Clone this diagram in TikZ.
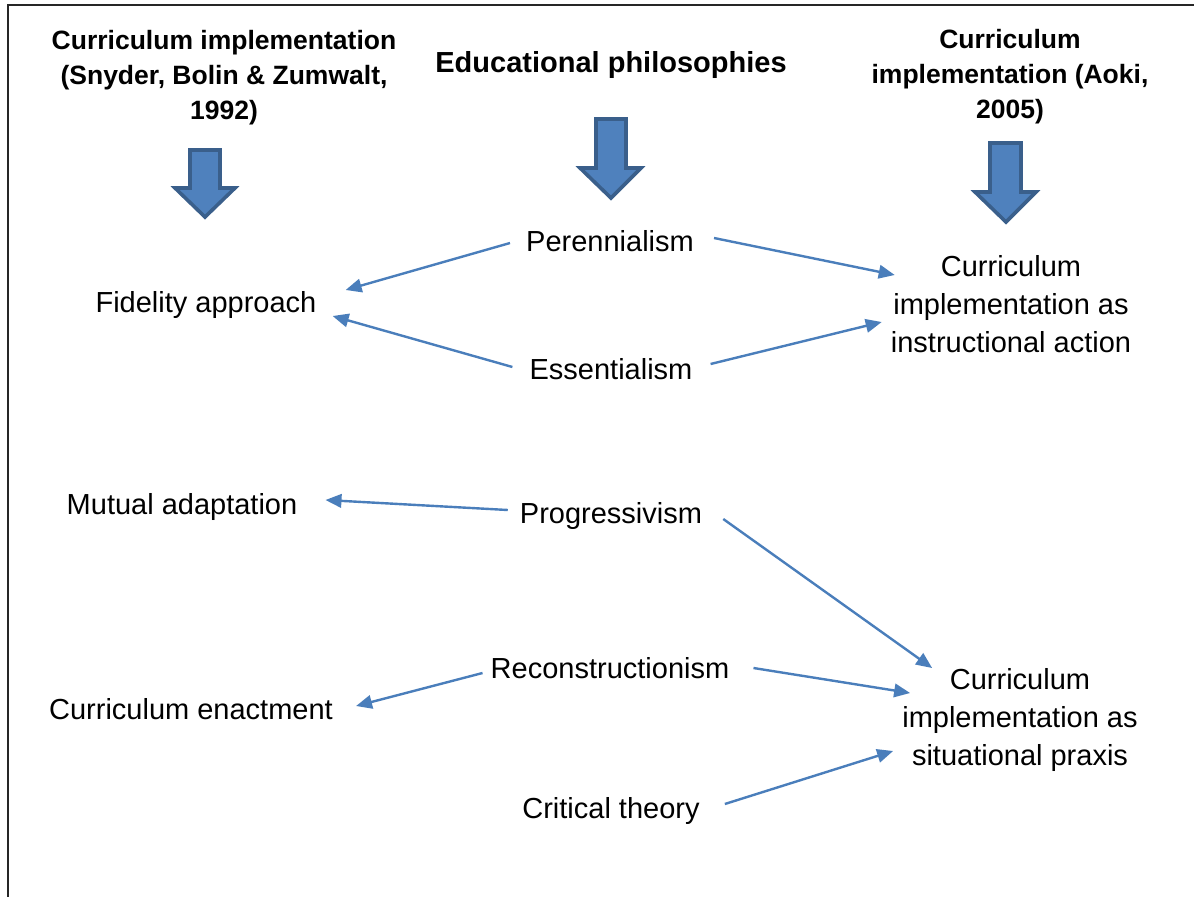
\documentclass[tikz,border=0pt]{standalone}
\usepackage{fontspec}
\setmainfont{Liberation Sans}
\usetikzlibrary{arrows.meta}
\definecolor{linkblue}{HTML}{4A7EBB}
\definecolor{blockfill}{HTML}{4F81BD}
\definecolor{blockline}{HTML}{3A5F8B}

\begin{document}
\begin{tikzpicture}[x=1pt,y=-1pt]
\tikzstyle{head}=[font=\fontsize{26.5}{35}\selectfont\bfseries, align=center, inner sep=0]
\tikzstyle{item}=[font=\fontsize{29}{38}\selectfont, inner sep=0, text height=20pt, text depth=0pt]
\tikzstyle{target}=[font=\fontsize{29}{38}\selectfont, align=center, inner sep=0]
\tikzstyle{link}=[draw=linkblue, line width=2.4pt, -{Triangle[length=16pt,width=13.5pt]}]
\tikzstyle{block}=[fill=blockfill, draw=blockline, line width=3.6pt, line join=miter]

\useasboundingbox (0,0) rectangle (1194,897);
\draw[line width=2pt, black!85] (1194,5) -- (8,5) -- (8,897);

% column headings
\node[head] (snyder) at (224,78) {Curriculum implementation\\(Snyder, Bolin \& Zumwalt,\\1992)};
\node[head, font=\fontsize{29}{38}\selectfont\bfseries, text height=20pt, text depth=0pt] (philo) at (611,62) {Educational philosophies};
\node[head] (aoki) at (1010,77) {Curriculum\\implementation (Aoki,\\2005)};

% block arrows under the headings
\draw[block] (190,150) -- (220,150) -- (220,188) -- (235,188) -- (205,217) -- (175,188) -- (190,188) -- cycle;
\draw[block] (596,119) -- (626,119) -- (626,168) -- (641,168) -- (611,198) -- (580,168) -- (596,168) -- cycle;
\draw[block] (990,143) -- (1021,143) -- (1021,192) -- (1036,192) -- (1006,222) -- (975,192) -- (990,192) -- cycle;

% philosophies
\node[item] (pere) at (610,241) {Perennialism};
\node[item] (ess) at (611,369) {Essentialism};
\node[item] (prog) at (611,513) {Progressivism};
\node[item] (recon) at (610,668) {Reconstructionism};
\node[item] (crit) at (611,808) {Critical theory};

% Snyder, Bolin & Zumwalt
\node[item] (fid) at (206,302) {Fidelity approach};
\node[item] (mut) at (182,504) {Mutual adaptation};
\node[item] (enact) at (191,709) {Curriculum enactment};

% Aoki
\node[target] (instr) at (1011,304) {Curriculum\\implementation as\\instructional action};
\node[target] (situ) at (1020,720) {Curriculum\\implementation as\\situational praxis};

\draw[link] ([shift={(-16,2)}]pere.west) -- ([shift={(29,-12)}]fid.east);
\draw[link] ([shift={(-17,-2)}]ess.west) -- ([shift={(16,14)}]fid.east);
\draw[link] ([shift={(20,-3)}]pere.east) -- ([shift={(4,-29)}]instr.west);
\draw[link] ([shift={(18,-5)}]ess.east) -- ([shift={(-9,18)}]instr.west);
\draw[link] ([shift={(-12,-3)}]prog.west) -- ([shift={(28,-4)}]mut.east);
\draw[link] ([shift={(21,6)}]prog.east) -- ([shift={(30,-52)}]situ.west);
\draw[link] ([shift={(-8,5)}]recon.west) -- ([shift={(23,-3)}]enact.east);
\draw[link] ([shift={(24,0)}]recon.east) -- ([shift={(8,-27)}]situ.west);
\draw[link] ([shift={(25,-4)}]crit.east) -- ([shift={(-9,31)}]situ.west);
\end{tikzpicture}
\end{document}
